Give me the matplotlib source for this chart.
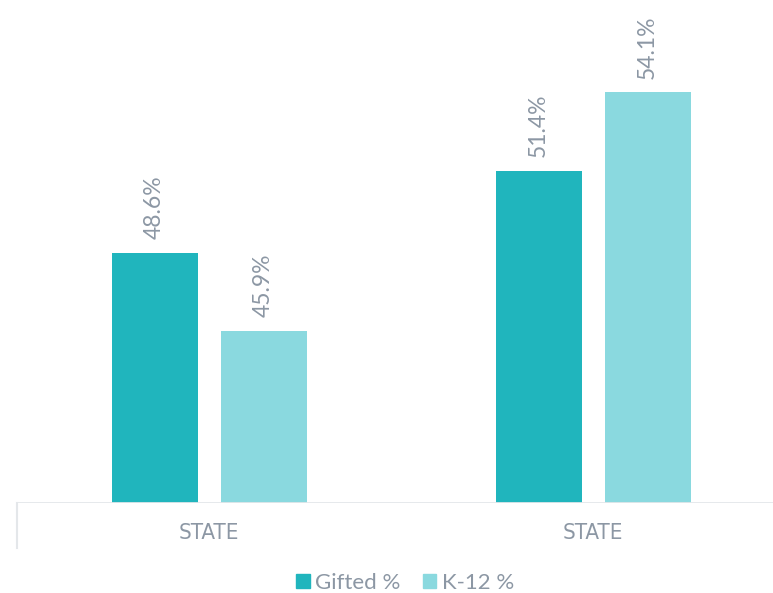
import matplotlib
matplotlib.use("Agg")
import matplotlib.pyplot as plt
from matplotlib.patches import Patch
import numpy as np

categories = ["STATE", "STATE"]
series_names = ["Gifted %", "K-12 %"]
gifted = [48.6, 51.4]
k12 = [45.9, 54.1]

colors = ["#20B5BD", "#8AD9DF"]
text_color = "#8C97A4"
line_color = "#E4E7EA"

plt.rcParams['font.family'] = ['Lato', 'DejaVu Sans']

fig = plt.figure(figsize=(7.73, 5.93), dpi=100)
ax = fig.add_axes([17/773, 1-503/593, 768/773, 495/593])
ax.set_xlim(-0.5, 1.5)
ax.set_ylim(40, 57)

x = np.arange(len(categories))
w = 86/384
off = 54.5/384
bars1 = ax.bar(x - off, gifted, w, color=colors[0], zorder=2)
bars2 = ax.bar(x + off, k12, w, color=colors[1], zorder=2)

for bars, vals in ((bars1, gifted), (bars2, k12)):
    for b, v in zip(bars, vals):
        ax.annotate(f"{v:.1f}%", (b.get_x() + b.get_width()/2, v),
                    xytext=(0, 10), textcoords="offset points",
                    rotation=90, ha="center", va="bottom",
                    fontsize=16.5, color=text_color)

for s in ax.spines.values():
    s.set_visible(False)
ax.set_xticks([])
ax.set_yticks([])
ax.axhline(40, color=line_color, lw=2, zorder=3)
ax.plot([0, 0], [0, -45/495], transform=ax.transAxes, color=line_color,
        lw=1.5, clip_on=False)

for xi, c in zip(x, categories):
    ax.text(xi, -30/495, c, transform=ax.get_xaxis_transform(),
            ha="center", va="center", fontsize=16, color=text_color,
            family=['DejaVu Sans'], stretch='condensed', weight='light')

handles = [Patch(color=colors[0]), Patch(color=colors[1])]
fig.legend(handles, series_names, loc="center", ncol=2,
           bbox_to_anchor=(405/773, 1-583/593), frameon=False,
           fontsize=16, labelcolor=text_color,
           handlelength=0.6, handleheight=0.6, handletextpad=0.25,
           columnspacing=1.0)

fig.savefig("out.png", dpi=100)
